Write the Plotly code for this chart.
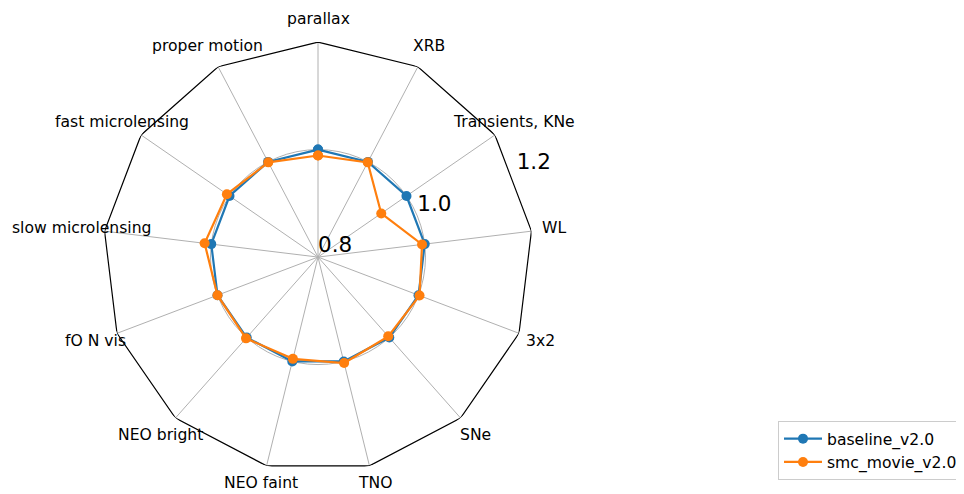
import math
import plotly.graph_objects as go

categories = ["parallax", "XRB", "Transients, KNe", "WL", "3x2", "SNe", "TNO",
              "NEO faint", "NEO bright", "fO N vis", "slow microlensing",
              "fast microlensing", "proper motion"]
baseline_v2 = [1.0, 1.0, 1.0, 1.0, 1.0, 1.0, 1.0, 1.0, 1.0, 1.0, 1.0, 1.0, 1.0]
smc_movie_v2 = [0.989, 0.999, 0.943, 0.995, 1.002, 0.997, 1.003, 0.995, 1.002,
                1.0, 1.0125, 1.006, 0.999]
radial_ticks = [0.8, 1.0, 1.2]
radial_range = [0.8, 1.2]
radial_label_angle = 22.5  # degrees, counterclockwise from east (matplotlib style)

W, H = 956, 486  # page body has an 8px margin inside the 964x494 window
n = len(categories)
thetas = [i * 360.0 / n for i in range(n)]

def closed(v):
    return list(v) + [v[0]]

fig = go.Figure()
# outer polygon frame
fig.add_trace(go.Scatterpolar(
    r=closed([radial_range[1]] * n), theta=closed(thetas),
    mode="lines", line=dict(color="black", width=1.2),
    showlegend=False, hoverinfo="skip"))
fig.add_trace(go.Scatterpolar(
    r=closed(baseline_v2), theta=closed(thetas), name="baseline_v2.0",
    mode="lines+markers", line=dict(color="#1f77b4", width=2.2),
    marker=dict(size=10, color="#1f77b4")))
fig.add_trace(go.Scatterpolar(
    r=closed(smc_movie_v2), theta=closed(thetas), name="smc_movie_v2.0",
    mode="lines+markers", line=dict(color="#ff7f0e", width=2.2),
    marker=dict(size=10, color="#ff7f0e")))
# radial tick labels (horizontal, matplotlib-like placement)
fig.add_trace(go.Scatterpolar(
    r=radial_ticks, theta=[90 - radial_label_angle] * len(radial_ticks),
    mode="text", text=["%.1f" % t for t in radial_ticks],
    textposition="top right", textfont=dict(size=21.5, color="black"),
    showlegend=False, hoverinfo="skip", cliponaxis=False))

dom_x = [95 / W, 525 / W]
dom_y = [0.035, 0.940]
cx = (dom_x[0] + dom_x[1]) / 2 * W
cy = (1 - (dom_y[0] + dom_y[1]) / 2) * H
rad = (dom_x[1] - dom_x[0]) * W / 2
label_r = rad * 1.107
label_size = 15.6

annotations = []
for cat, th in zip(categories, thetas):
    a = math.radians(th)
    xp = cx + label_r * math.sin(a)
    yp = cy - label_r * math.cos(a)
    yp = min(yp, H - 0.7 * label_size)  # keep bottom labels inside the page
    annotations.append(dict(
        x=xp / W, y=1 - yp / H, xref="paper", yref="paper",
        text=cat, showarrow=False, xanchor="center", yanchor="middle",
        borderpad=0,
        font=dict(size=label_size, color="black", family="DejaVu Sans")))

fig.update_layout(
    width=W, height=H,
    margin=dict(l=0, r=0, t=0, b=0),
    paper_bgcolor="white", plot_bgcolor="white",
    font=dict(family="DejaVu Sans", color="black"),
    annotations=annotations,
    polar=dict(
        domain=dict(x=dom_x, y=dom_y),
        bgcolor="white",
        gridshape="circular",
        angularaxis=dict(
            type="linear", thetaunit="degrees",
            rotation=90, direction="clockwise",
            tickmode="array", tickvals=thetas,
            showticklabels=False,
            showline=False, ticks="",
            gridcolor="#b0b0b0", gridwidth=1,
        ),
        radialaxis=dict(
            range=radial_range, tickvals=radial_ticks,
            showticklabels=False,
            showline=False, ticks="",
            gridcolor="#b0b0b0", gridwidth=1,
        ),
    ),
    legend=dict(
        x=(778 - 8) / W, y=(494 - 421) / H, xanchor="left", yanchor="top",
        bordercolor="#cccccc", borderwidth=1, bgcolor="white",
        itemwidth=38, tracegroupgap=0,
        font=dict(size=15.6, color="black"),
    ),
)

fig.write_html("out.html")
